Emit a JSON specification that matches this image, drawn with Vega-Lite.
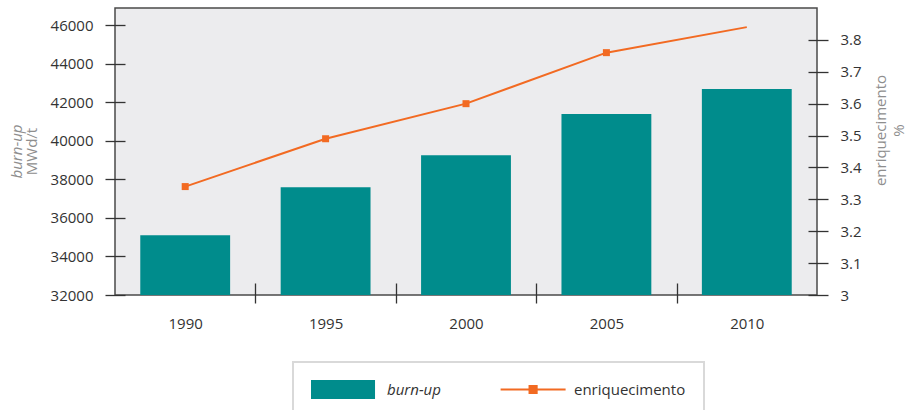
{
  "$schema": "https://vega.github.io/schema/vega-lite/v6.json",
  "width": 702,
  "height": 287,
  "autosize": {"type": "none"},
  "padding": {"left": 115, "top": 8, "right": 96, "bottom": 115},
  "background": "#ffffff",
  "title": {
    "text": "burn-up",
    "subtitle": "MWd/t",
    "orient": "left",
    "anchor": "middle",
    "offset": 10,
    "font": "Open Sans",
    "fontSize": 15,
    "fontStyle": "italic",
    "fontWeight": "normal",
    "color": "#8e8e8e",
    "subtitleFont": "Open Sans",
    "subtitleFontSize": 15,
    "subtitleFontStyle": "normal",
    "subtitleColor": "#8e8e8e",
    "subtitlePadding": 0
  },
  "config": {
    "view": {"fill": "#ececee", "stroke": "#4a4a4a", "strokeWidth": 1.5},
    "font": "Open Sans",
    "axis": {
      "domain": false,
      "grid": false,
      "labelFont": "Open Sans",
      "labelFontSize": 15,
      "labelColor": "#333333",
      "tickColor": "#333333",
      "tickWidth": 1.3,
      "tickSize": 20,
      "titleFont": "Open Sans",
      "titleFontSize": 15,
      "titleFontWeight": "normal",
      "titleColor": "#8e8e8e"
    }
  },
  "data": {
    "values": [
      {"year": 1990, "burnup": 35100, "enrich": 3.34},
      {"year": 1995, "burnup": 37600, "enrich": 3.49},
      {"year": 2000, "burnup": 39250, "enrich": 3.60},
      {"year": 2005, "burnup": 41400, "enrich": 3.76},
      {"year": 2010, "burnup": 42700, "enrich": 3.84}
    ]
  },
  "encoding": {
    "x": {
      "field": "year",
      "type": "ordinal",
      "scale": {"paddingInner": 0, "paddingOuter": 0},
      "axis": {
        "title": null,
        "labelAngle": 0,
        "tickBand": "extent",
        "offset": -12,
        "tickSize": 20,
        "labelPadding": 13,
        "tickOpacity": {"condition": {"test": "datum.value === 2010 || !!datum.extra", "value": 0}, "value": 1}
      }
    }
  },
  "layer": [
    {
      "mark": {"type": "bar", "width": {"band": 0.64}},
      "encoding": {
        "y": {
          "field": "burnup",
          "type": "quantitative",
          "scale": {"domain": [32000, 46900], "zero": false, "nice": false},
          "axis": {
            "title": null,
            "values": [32000, 34000, 36000, 38000, 40000, 42000, 44000, 46000],
            "format": "d",
            "offset": -10,
            "tickSize": 20,
            "labelPadding": 12
          }
        },
        "y2": {"datum": 32000},
        "color": {
          "datum": "burn-up",
          "scale": {"domain": ["burn-up", "enriquecimento"], "range": ["#008c8c", "#f26a22"]},
          "legend": {
            "title": null,
            "orient": "none",
            "direction": "horizontal",
            "legendX": 178,
            "legendY": 354,
            "padding": 18,
            "fillColor": "#ffffff",
            "strokeColor": "#d9d9d9",
            "symbolSize": 4225,
            "symbolStrokeWidth": 2,
            "symbolOffset": 25,
            "clipHeight": 19,
            "labelOffset": 36,
            "columnPadding": 57,
            "labelFont": "Open Sans",
            "labelFontSize": 15,
            "labelColor": "#333333",
            "encode": {
              "legend": {"update": {"strokeWidth": {"value": 2}}},
              "symbols": {
                "update": {
                  "shape": {"signal": "datum.value === 'burn-up' ? 'M-1,-0.29H0.97V0.29H-1Z' : 'M-0.92,0H1.08M-0.03,-0.11H0.19V0.11H-0.03Z'"},
                  "fill": {"signal": "datum.value === 'burn-up' ? '#008c8c' : '#f26a22'"},
                  "stroke": {"signal": "datum.value === 'burn-up' ? '#008c8c' : '#f26a22'"},
                  "strokeWidth": {"signal": "datum.value === 'burn-up' ? 0 : 2"},
                  "opacity": {"value": 1},
                  "fillOpacity": {"value": 1},
                  "strokeOpacity": {"value": 1}
                }
              },
              "labels": {
                "update": {
                  "fontStyle": {"signal": "datum.value === 'burn-up' ? 'italic' : 'normal'"}
                }
              }
            }
          }
        }
      }
    },
    {
      "encoding": {
        "y": {
          "field": "enrich",
          "type": "quantitative",
          "scale": {"domain": [3, 3.9], "zero": false, "nice": false},
          "axis": {
            "orient": "right",
            "title": ["enriquecimento", "%"],
            "values": [3, 3.1, 3.2, 3.3, 3.4, 3.5, 3.6, 3.7, 3.8],
            "format": "~g",
            "offset": -9,
            "tickSize": 20,
            "labelPadding": 12,
            "titleAngle": -90,
            "titleBaseline": "top",
            "titleAlign": "center",
            "titlePadding": -6,
            "titleLineHeight": 18,
            "titleY": 122
          }
        },
        "color": {"datum": "enriquecimento"}
      },
      "layer": [
        {"mark": {"type": "line", "strokeWidth": 2}},
        {
          "transform": [{"filter": "datum.year < 2010"}],
          "mark": {"type": "square", "size": 49, "opacity": 1}
        }
      ]
    }
  ],
  "resolve": {"scale": {"y": "independent"}}
}
